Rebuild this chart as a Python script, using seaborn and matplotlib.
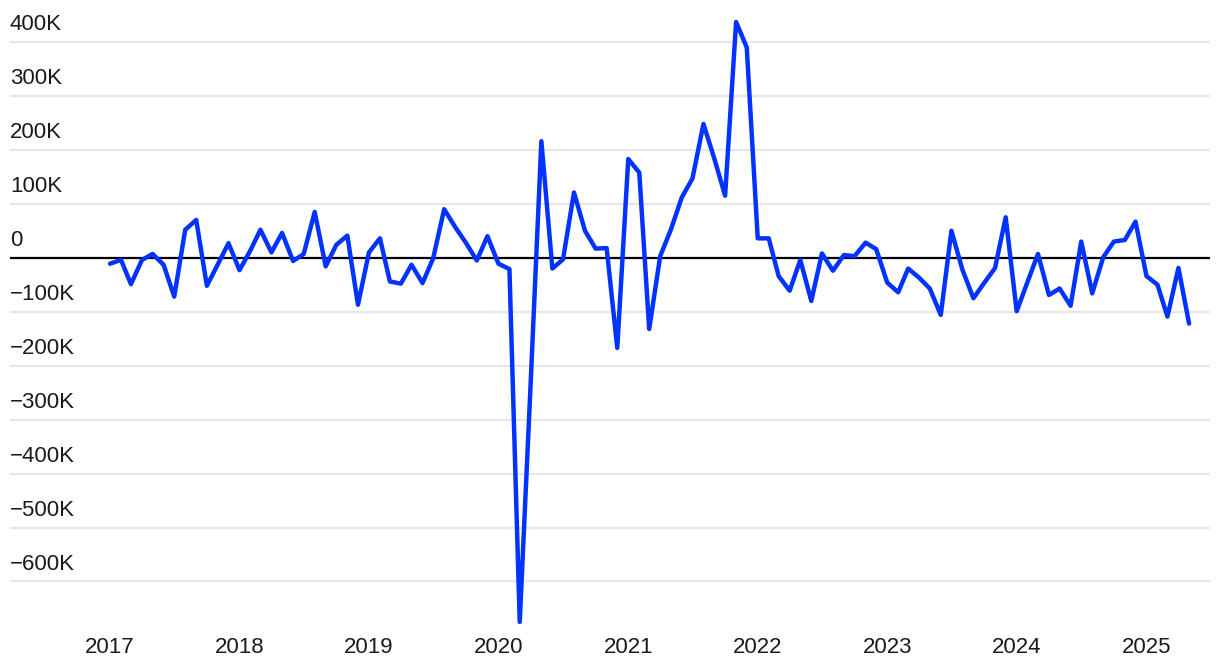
import pandas as pd
import matplotlib
matplotlib.use("Agg")
from matplotlib import pyplot as plt
import matplotlib.dates as mdates
import seaborn as sns

# monthly change, thousands (Jan 2017 .. May 2025)
values = [
    -11, -4, -49, -4, 7, -13, -72, 52, 70, -52, -12, 27,
    -23, 14, 52, 10, 46, -6, 7, 85, -16, 24, 41, -87,
    10, 36, -44, -48, -13, -47, -1, 90, 57, 28, -5, 40,
    -11, -21, -675, -230, 216, -20, -3, 121, 50, 17, 18, -167,
    183, 158, -132, 3, 52, 112, 147, 248, 183, 115, 437, 390,
    36, 36, -34, -61, -4, -80, 8, -24, 5, 3, 28, 16,
    -46, -64, -20, -37, -57, -106, 50, -22, -75, -47, -19, 75,
    -99, -44, 7, -69, -57, -89, 30, -66, 1, 30, 33, 67,
    -34, -50, -109, -19, -122,
]
dates = pd.date_range("2017-01-01", periods=len(values), freq="MS")
years = list(range(2017, 2026))
ytick_vals = [400, 300, 200, 100, 0, -100, -200, -300, -400, -500, -600]
ytick_labels = ["400K", "300K", "200K", "100K", "0", "−100K", "−200K",
                "−300K", "−400K", "−500K", "−600K"]

df = pd.DataFrame({"date": dates, "change": values})

sns.set_theme(style="white")
plt.rcParams["font.family"] = ["Liberation Sans", "DejaVu Sans"]

fig = plt.figure(figsize=(12.2, 6.7), dpi=100)
ax = fig.add_axes([10 / 1220, 40 / 670, 1200 / 1220, 615 / 670])

for v in ytick_vals:
    if v == 0:
        continue
    ax.axhline(v, color="#e6e6e6", lw=1.5, zorder=0)
ax.axhline(0, color="black", lw=1.6, zorder=1)

sns.lineplot(data=df, x="date", y="change", color="#0033ff", lw=3.2, ax=ax, zorder=3)

ax.set_ylim(-690, 450)
ax.set_xlim(pd.Timestamp("2016-03-25"), pd.Timestamp("2025-06-29"))

for v, lab in zip(ytick_vals, ytick_labels):
    ax.annotate(lab, xy=(0, v), xycoords=("axes fraction", "data"),
                xytext=(0, 5), textcoords="offset points",
                ha="left", va="bottom", fontsize=16, color="#1a1a1a")

ax.set_yticks([])
ax.set_xticks([pd.Timestamp(f"{y}-01-01") for y in years])
ax.xaxis.set_major_formatter(mdates.DateFormatter("%Y"))
ax.tick_params(axis="x", length=0, pad=5, labelsize=16, labelcolor="#1a1a1a")
ax.set_xlabel("")
ax.set_ylabel("")
for s in ax.spines.values():
    s.set_visible(False)

fig.savefig("out.png", dpi=100)
